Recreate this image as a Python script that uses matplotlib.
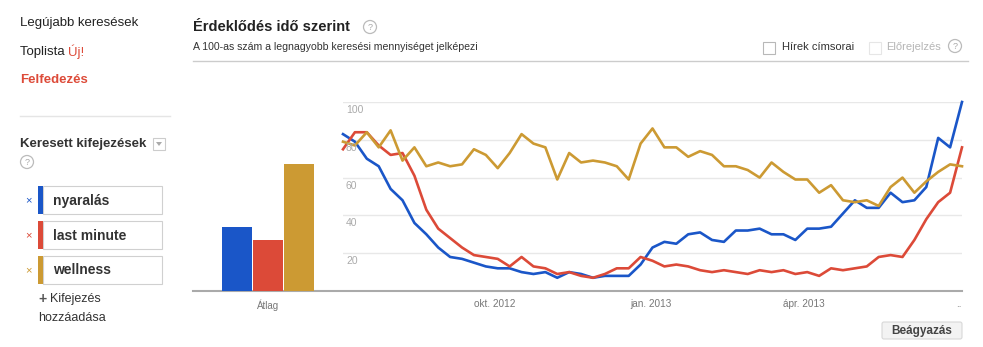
import matplotlib
matplotlib.use("Agg")
import matplotlib.pyplot as plt
import matplotlib.patches as mpatches
import pandas as pd

plt.rcParams["font.family"] = ["Liberation Sans", "DejaVu Sans"]

# weekly search interest, one point per week (mid-week), July 2012 - July 2013
week_start = "2012-07-04"
terms = ["nyaralás", "last minute", "wellness"]
colors = ["#1a56c8", "#dc4a38", "#cc9a33"]

nyaralas = [83, 79, 70, 66, 54, 48, 36, 30, 23, 18, 17, 15, 13, 12,
            12, 10, 9, 10, 7, 10, 9, 7, 8, 8, 8, 14, 23, 26, 25, 30,
            31, 27, 26, 32, 32, 33, 30, 30, 27, 33, 33, 34, 41, 48, 44,
            44, 52, 47, 48, 55, 81, 76, 100]
last_minute = [75, 84, 84, 77, 72, 73, 61, 43, 33, 28, 23, 19, 18, 17,
               13, 18, 13, 12, 9, 10, 8, 7, 9, 12, 12, 18, 16, 13, 14, 13,
               11, 10, 11, 10, 9, 11, 10, 11, 9, 10, 8, 12, 11, 12, 13,
               18, 19, 18, 27, 38, 47, 52, 76]
wellness = [79, 77, 84, 76, 85, 69, 76, 66, 68, 66, 67, 75, 72, 65,
            73, 83, 78, 76, 59, 73, 68, 69, 68, 66, 59, 78, 86, 76, 76,
            71, 74, 72, 66, 66, 64, 60, 68, 63, 59, 59, 52, 56, 48, 47,
            48, 45, 55, 60, 52, 58, 63, 67, 66]
averages = [34, 27, 67]

tick_dates = ["2012-10-01", "2013-01-01", "2013-04-01", "2013-07-01"]
tick_labels = ["okt. 2012", "jan. 2013", "ápr. 2013", ".."]
y_ticks = [20, 40, 60, 80, 100]

W, H = 983, 347
fig = plt.figure(figsize=(W / 100, H / 100), dpi=100)
fig.patch.set_facecolor("white")


def box(x0, y0, x1, y1):
    """pixel box (top-left origin) -> figure fraction rect"""
    return [x0 / W, 1 - y1 / H, (x1 - x0) / W, (y1 - y0) / H]


# page furniture lives on a full-size overlay in pixel coordinates
ui = fig.add_axes([0, 0, 1, 1])
ui.set_xlim(0, W)
ui.set_ylim(H, 0)
ui.axis("off")

dark = "#222222"
red_ui = "#dd4b39"

ui.text(20, 23, "Legújabb keresések", fontsize=9.5, color=dark, va="center")
t = ui.text(20, 52, "Toplista ", fontsize=9.5, color=dark, va="center")
ui.annotate("Új!", xycoords=t, xy=(1, 0.5), va="center", fontsize=9.5, color=red_ui)
ui.text(20, 80, "Felfedezés", fontsize=9.5, color=red_ui, va="center", fontweight="bold")
ui.plot([20, 170], [116, 116], color="#e5e5e5", lw=1)

ui.text(20, 144, "Keresett kifejezések", fontsize=9.5, color="#333333", va="center",
        fontweight="bold")
ui.add_patch(mpatches.Rectangle((153, 138), 12, 12, fc="white", ec="#cccccc", lw=0.8))
ui.add_patch(mpatches.Polygon([(156, 142), (162, 142), (159, 146)], closed=True,
                              fc="#aaaaaa", ec="none"))


def help_icon(x, y, r=6.5):
    ui.add_patch(mpatches.Circle((x, y), r, fc="white", ec="#bbbbbb", lw=0.9))
    ui.text(x, y + 0.5, "?", fontsize=6.5, color="#aaaaaa", ha="center", va="center")


help_icon(27, 162)

row_tops = [186, 221, 256]
for term, col, top in zip(terms, colors, row_tops):
    ui.text(28, top + 14.5, "×", fontsize=8, color=col, ha="center", va="center")
    ui.add_patch(mpatches.Rectangle((43, top), 119, 28, fc="white", ec="#d0d0d0", lw=0.8))
    ui.add_patch(mpatches.Rectangle((38, top), 5, 28, fc=col, ec="none"))
    ui.text(53, top + 14.5, term, fontsize=10, color="#333333", va="center",
            fontweight="bold")

ui.text(38, 299, "+", fontsize=10, color="#555555", va="center", fontweight="bold")
ui.text(50, 299, "Kifejezés", fontsize=9, color="#333333", va="center")
ui.text(38, 318, "hozzáadása", fontsize=9, color="#333333", va="center")

ui.text(193, 27, "Érdeklődés idő szerint", fontsize=10.5, color=dark, va="center",
        fontweight="bold")
help_icon(370, 27)
ui.text(193, 47, "A 100-as szám a legnagyobb keresési mennyiséget jelképezi",
        fontsize=7.6, color="#333333", va="center")
ui.plot([193, 968], [61, 61], color="#cccccc", lw=1)

ui.add_patch(mpatches.Rectangle((763, 41.5), 12, 12, fc="white", ec="#b8b8b8", lw=0.8))
ui.text(782, 47, "Hírek címsorai", fontsize=8, color="#333333", va="center")
ui.add_patch(mpatches.Rectangle((869, 41.5), 12, 12, fc="white", ec="#e6e6e6", lw=0.8))
ui.text(886, 47, "Előrejelzés", fontsize=8, color="#b5b5b5", va="center")
help_icon(955, 46)

# axis baseline shared by the bar and the line panel
ui.plot([193, 962], [291, 291], color="#aaaaaa", lw=1.5, zorder=5)

ui.add_patch(mpatches.FancyBboxPatch((882, 322), 80, 17, boxstyle="round,pad=0,rounding_size=2",
                                     fc="#f3f3f3", ec="#d8d8d8", lw=0.8))
ui.text(922, 331, "Beágyazás", fontsize=8.5, color="#444444", ha="center", va="center",
        fontweight="bold")

# average bars
axb = fig.add_axes(box(193, 102, 330, 291))
axb.bar(range(len(averages)), averages, width=0.965, color=colors)
axb.set_xlim(-1.405, 3.0)
axb.set_ylim(0, 100)
axb.set_yticks([])
axb.set_xticks([1])
axb.set_xticklabels(["Átlag"], fontsize=7, color="#777777")
axb.tick_params(axis="x", length=0, pad=6)
for s in axb.spines.values():
    s.set_visible(False)
axb.patch.set_alpha(0)

# weekly interest lines
dates = pd.date_range(week_start, periods=len(nyaralas), freq="7D")
axl = fig.add_axes(box(343, 102, 962, 291))
for series, col in zip([nyaralas, last_minute, wellness], colors):
    axl.plot(dates, series, color=col, lw=1.9, clip_on=False)
axl.set_xlim(dates[0], dates[-1])
axl.set_ylim(0, 100)
axl.set_yticks(y_ticks)
axl.set_yticklabels([])
axl.grid(axis="y", color="#e8e8e8", lw=1)
axl.set_axisbelow(True)
axl.tick_params(axis="y", length=0)
for v in y_ticks:
    axl.annotate(str(v), xy=(0, v), xycoords=("axes fraction", "data"),
                 xytext=(3, -8), textcoords="offset pixels", fontsize=7.5,
                 color="#aaaaaa", va="center", ha="left")
axl.set_xticks(pd.to_datetime(tick_dates))
axl.set_xticklabels(tick_labels, fontsize=7.2, color="#777777")
axl.tick_params(axis="x", length=0, pad=6)
for s in axl.spines.values():
    s.set_visible(False)
axl.patch.set_alpha(0)

fig.savefig("out.png", dpi=100)
